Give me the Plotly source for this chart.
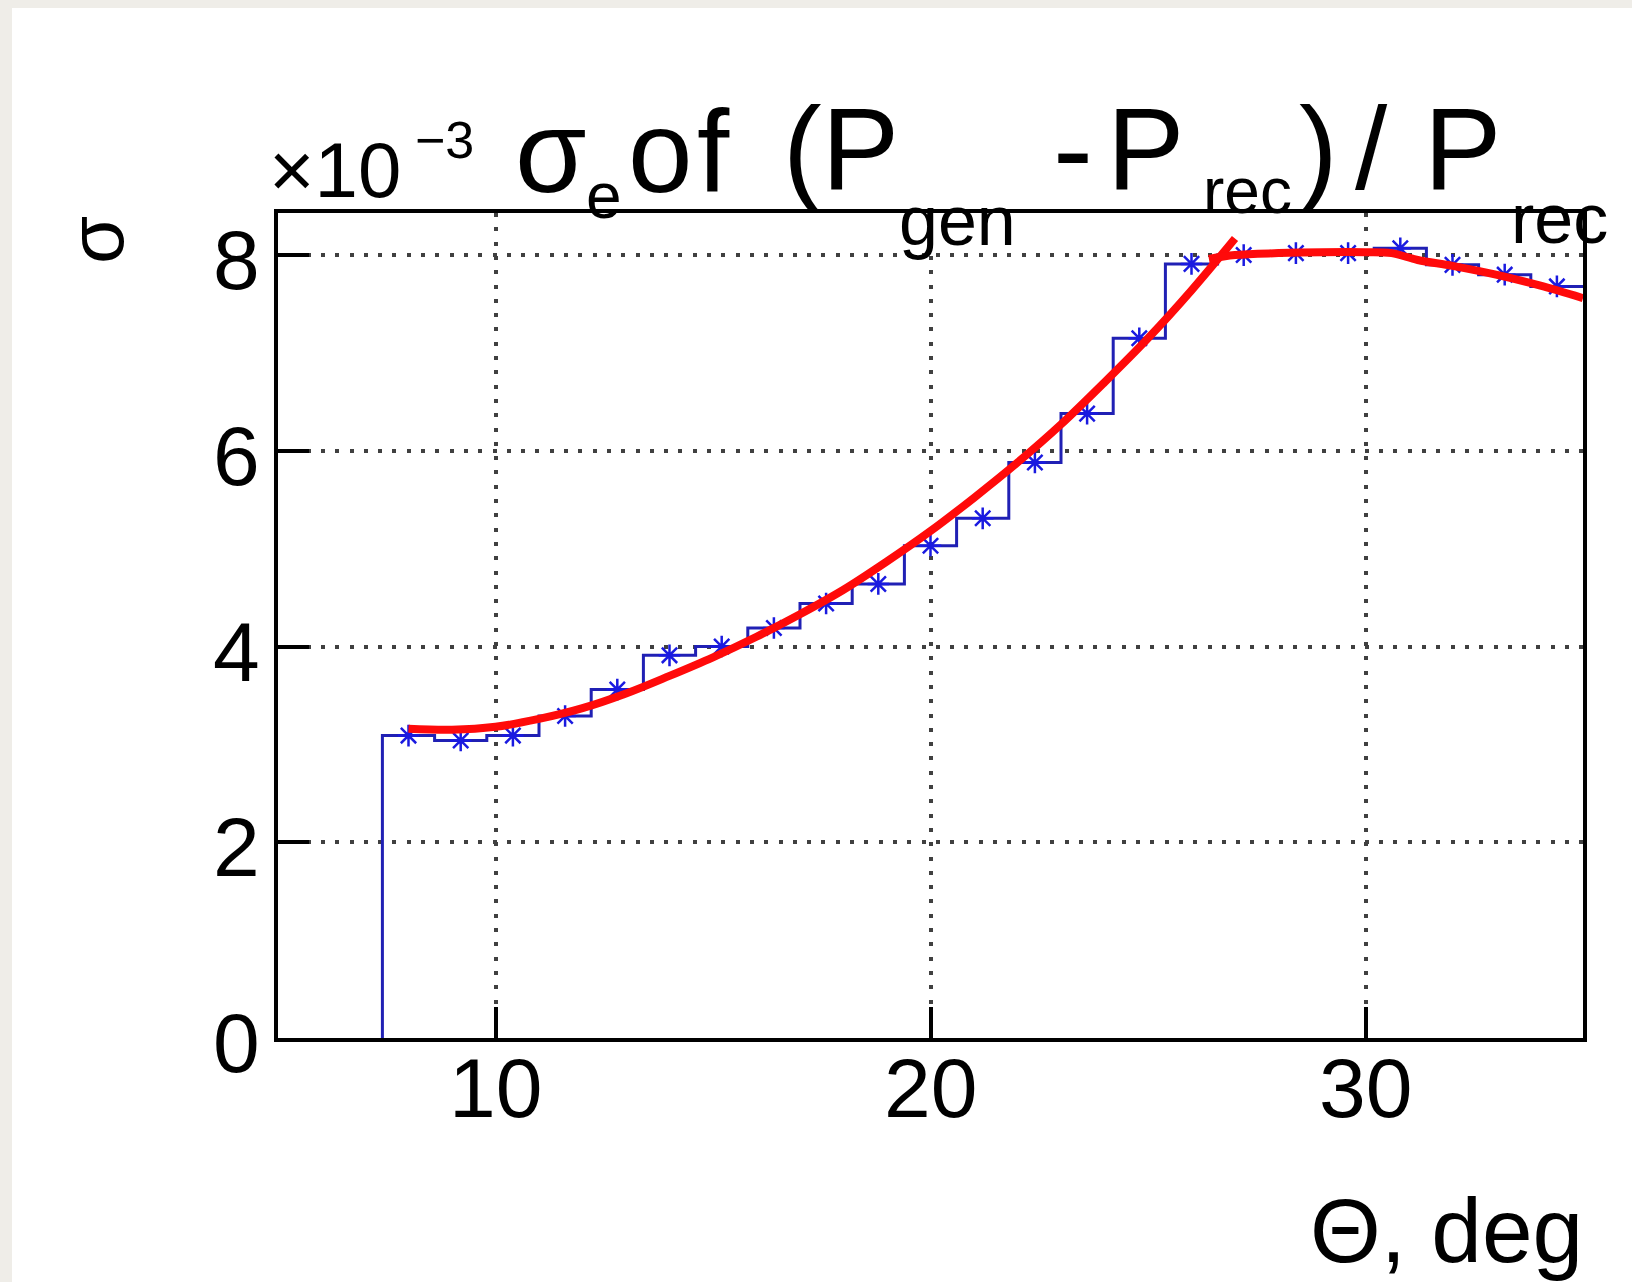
import numpy as np
import plotly.graph_objects as go

# ---------------- data ----------------
# histogram binning: 25 bins of 1.2 deg from 5 to 35 deg
x_low = 5.0
bin_width = 1.2
n_bins = 25

# resolution sigma per theta bin (units of 1e-3)
sigma_hist = [0.0, 0.0,
              3.09, 3.04, 3.09, 3.29, 3.56, 3.91, 4.00, 4.19, 4.44, 4.64,
              5.03, 5.31, 5.88, 6.38, 7.15, 7.91, 8.00, 8.02, 8.02, 8.07,
              7.90, 7.80, 7.68]

# fit curve, rising part
fit1_theta = [8.0, 9.0, 10.0, 11.0, 12.0, 13.0, 14.0, 15.0, 16.0, 17.0,
              18.0, 19.0, 20.0, 21.0, 22.0, 23.0, 24.0, 25.0, 26.0, 27.0]
fit1_sigma = [3.16, 3.15, 3.18, 3.26, 3.37, 3.52, 3.70, 3.89, 4.10, 4.33,
              4.58, 4.87, 5.18, 5.52, 5.88, 6.27, 6.70, 7.15, 7.64, 8.17]

# fit curve, plateau part
fit2_theta = [26.4, 27.0, 28.0, 29.0, 30.0, 30.6, 31.2, 32.0, 33.0, 34.0, 35.0]
fit2_sigma = [7.96, 8.00, 8.02, 8.03, 8.03, 8.02, 7.95, 7.89, 7.80, 7.69, 7.56]

x_ticks = [10, 20, 30]
y_ticks = [0, 2, 4, 6, 8]

# ---------------- geometry ----------------
W, H = 1632, 1282
L, R, T, B = 278, 1583, 213, 1038   # frame edges in pixels
FONT = "Liberation Sans, Arial, Helvetica, sans-serif"


def px_x(px):
    return (px - L) / (R - L)


def px_y(py):
    return (B - py) / (B - T)


edges = x_low + bin_width * np.arange(n_bins + 1)
centers = 0.5 * (edges[:-1] + edges[1:])
filled = [i for i, v in enumerate(sigma_hist) if v > 0]
first = filled[0]

# step outline starting from zero at the low edge of the first filled bin
step_x = [edges[first]] + list(edges[first:])
step_y = [0.0] + list(sigma_hist[first:]) + [sigma_hist[-1]]

fig = go.Figure()

# histogram outline
fig.add_trace(go.Scatter(
    x=step_x, y=step_y, mode="lines", line_shape="hv",
    line=dict(color="#2020b4", width=3), hoverinfo="skip", showlegend=False))

# bin markers
fig.add_trace(go.Scatter(
    x=centers[filled], y=[sigma_hist[i] for i in filled], mode="markers",
    marker=dict(symbol="asterisk-open", size=18, color="#1a1ae0",
                line=dict(color="#1a1ae0", width=2.5)),
    hoverinfo="skip", showlegend=False))

# fit curves
for fx, fy in [(fit1_theta, fit1_sigma), (fit2_theta, fit2_sigma)]:
    fig.add_trace(go.Scatter(
        x=fx, y=fy, mode="lines", line_shape="spline",
        line=dict(color="#ff0a0a", width=8), hoverinfo="skip", showlegend=False))

axis_common = dict(
    showline=True, mirror=True, linecolor="black", linewidth=3.5,
    ticks="inside", ticklen=31, tickwidth=3.5, tickcolor="black",
    showgrid=True, gridcolor="#404040", gridwidth=4, griddash="4px,10.3px",
    zeroline=False, showticklabels=False, layer="above traces",
)

fig.update_xaxes(range=[5, 35], tickvals=x_ticks, **axis_common)
fig.update_yaxes(range=[0, 8.43], tickvals=y_ticks, **axis_common)

annotations = []

# tick labels
for v in x_ticks:
    annotations.append(dict(
        text=str(v), xref="x", yref="paper", x=v, y=px_y(1039),
        xanchor="center", yanchor="top", showarrow=False, borderpad=1,
        font=dict(family=FONT, size=84, color="black")))
for v in y_ticks:
    annotations.append(dict(
        text=str(v), xref="paper", yref="y", x=px_x(262), y=v, yshift=-5,
        xanchor="right", yanchor="middle", showarrow=False, borderpad=1,
        font=dict(family=FONT, size=84, color="black")))


def text_at(text, left, baseline, size, family=FONT):
    annotations.append(dict(
        text=text, xref="paper", yref="paper",
        x=px_x(left - 1.5 - 0.05 * size), y=px_y(baseline + 0.212 * size + 1.5),
        xanchor="left", yanchor="bottom", showarrow=False, borderpad=1,
        font=dict(family=family, size=size, color="black")))


# title pieces:  ×10^-3  σ_e of (P_gen - P_rec) / P_rec
text_at("×10", 272, 198, 78)
text_at("−3", 417, 158, 52)
text_at("σ", 520, 193, 116)
text_at("e", 589, 219, 64)
text_at("o", 633, 193, 116)
text_at("f", 702, 193, 116)
text_at("(P", 788, 190, 116)
text_at("gen", 902, 246, 70)
text_at("-", 1058, 190, 120)
text_at("P", 1112, 190, 116)
text_at("rec", 1206, 214, 64)
text_at(")", 1304, 190, 116)
text_at("/", 1360, 190, 116)
text_at("P", 1429, 190, 116)
text_at("rec", 1514, 244, 70)

# axis titles
annotations.append(dict(
    text="Θ, deg", xref="paper", yref="paper",
    x=px_x(1584), y=px_y(1262 + 0.212 * 91 + 0.5),
    xanchor="right", yanchor="bottom", showarrow=False, borderpad=0,
    font=dict(family=FONT, size=91, color="black")))
annotations.append(dict(
    text="σ", xref="paper", yref="paper",
    x=px_x(96), y=px_y(240), textangle=-90,
    xanchor="center", yanchor="middle", showarrow=False,
    font=dict(family=FONT, size=78, color="black")))

shapes = [
    dict(type="rect", xref="paper", yref="paper", layer="below",
         x0=px_x(0), x1=px_x(12), y0=px_y(H), y1=px_y(0),
         fillcolor="#efede8", line=dict(width=0)),
    dict(type="rect", xref="paper", yref="paper", layer="below",
         x0=px_x(0), x1=px_x(W), y0=px_y(8), y1=px_y(0),
         fillcolor="#efede8", line=dict(width=0)),
]

fig.update_layout(
    width=W, height=H,
    margin=dict(l=L, r=W - R, t=T, b=H - B, pad=0),
    paper_bgcolor="white", plot_bgcolor="white",
    annotations=annotations, shapes=shapes,
    showlegend=False,
)

fig.write_html("out.html")
